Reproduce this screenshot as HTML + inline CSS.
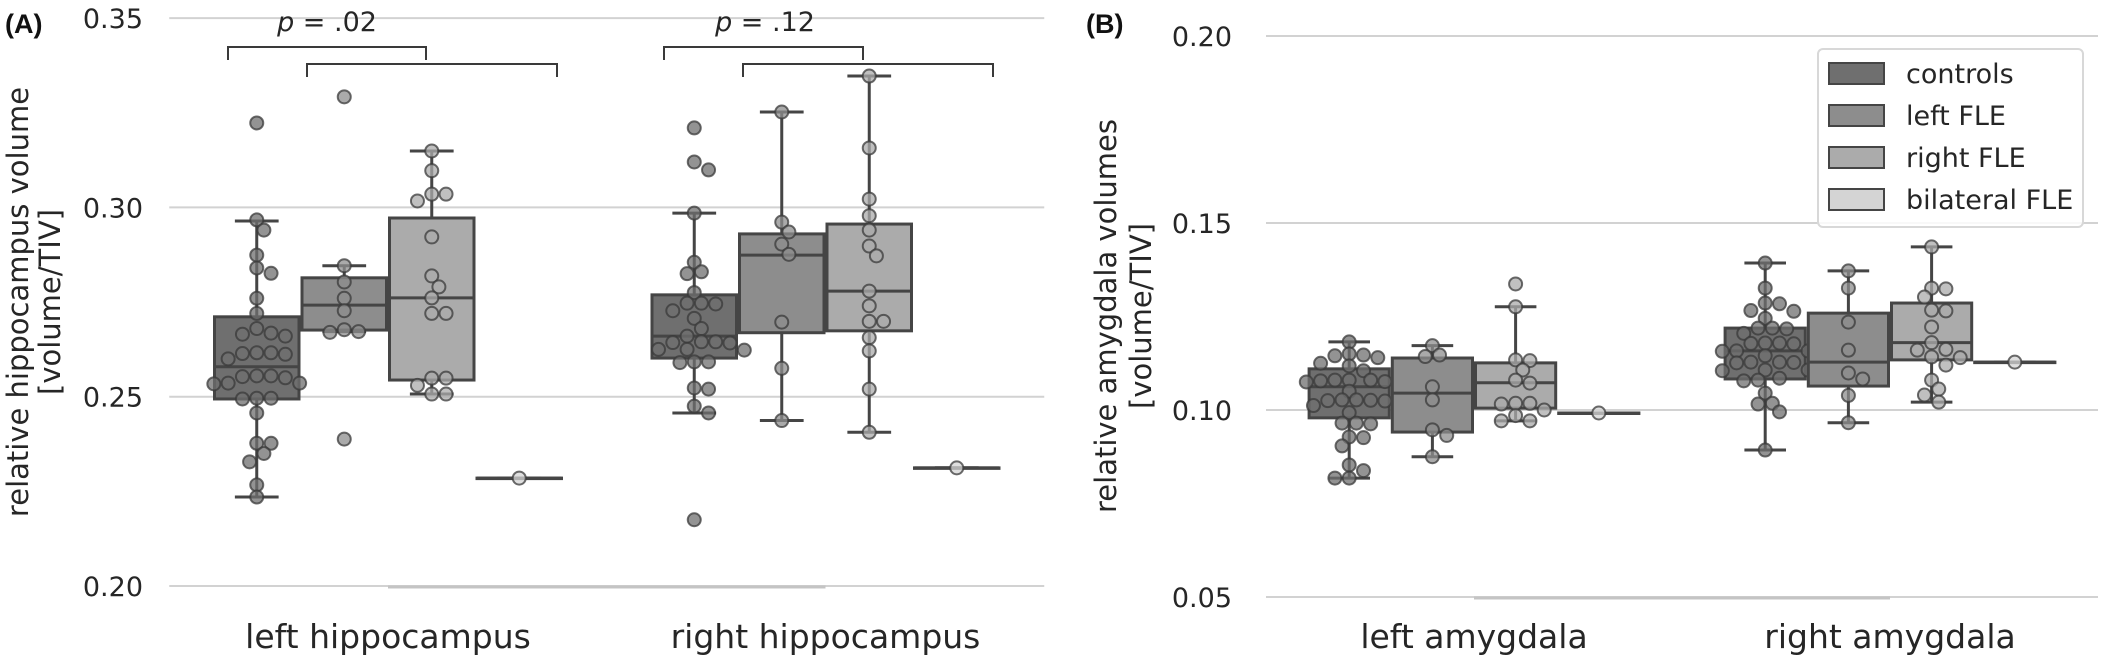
<!DOCTYPE html>
<html><head><meta charset="utf-8"><style>
html,body{margin:0;padding:0;background:#fff;}
svg{display:block;font-family:"DejaVu Sans","Liberation Sans",sans-serif;}
</style></head><body>
<svg id="fig" width="2128" height="662" viewBox="0 0 2128 662" xmlns="http://www.w3.org/2000/svg">
<g id="panelA"></g>
<g id="panelB"></g>
</svg>
<script>
// ---------- shared ----------
const groups = ["controls","left FLE","right FLE","bilateral FLE"];
const groupFill = ["#6f6f6f","#8d8d8d","#ababab","#d4d4d4"];

// ---------- Panel A data (hippocampus) ----------
const catsA = ["left hippocampus","right hippocampus"];
const ticksA = [0.20,0.25,0.30,0.35];
const tickLabelsA = ["0.20","0.25","0.30","0.35"];
// per category, per group: [whiskerLo, q1, median, q3, whiskerHi]
const boxA_left = [
  [0.2235,0.2494,0.2579,0.2711,0.2964],
  [0.2672,0.2676,0.2742,0.2814,0.2846],
  [0.2507,0.2544,0.2761,0.2972,0.3149],
  [0.2285,0.2285,0.2285,0.2285,0.2285]
];
const boxA_right = [
  [0.2457,0.2602,0.2660,0.2769,0.2985],
  [0.2437,0.2669,0.2874,0.2930,0.3252],
  [0.2406,0.2674,0.2779,0.2956,0.3347],
  [0.2312,0.2312,0.2312,0.2312,0.2312]
];
const ptsA_left_controls = [0.3223,0.2967,0.2940,0.2874,0.2840,0.2826,0.2760,0.2720,0.2680,0.2668,0.2665,0.2660,0.2616,0.2616,0.2614,0.2612,0.2600,0.2555,0.2555,0.2553,0.2550,0.2536,0.2536,0.2534,0.2496,0.2496,0.2494,0.2457,0.2377,0.2377,0.2350,0.2328,0.2267,0.2235];
const ptsA_left_lfle = [0.3292,0.2846,0.2803,0.2760,0.2727,0.2677,0.2672,0.2670,0.2388];
const ptsA_left_rfle = [0.3149,0.3097,0.3035,0.3035,0.3017,0.2922,0.2819,0.2790,0.2761,0.2720,0.2720,0.2549,0.2549,0.2530,0.2507,0.2507];
const ptsA_left_bfle = [0.2285];
const ptsA_right_controls = [0.3210,0.3120,0.3099,0.2985,0.2855,0.2830,0.2825,0.2775,0.2747,0.2747,0.2745,0.2727,0.2707,0.2680,0.2660,0.2645,0.2645,0.2643,0.2642,0.2625,0.2625,0.2623,0.2592,0.2592,0.2590,0.2523,0.2520,0.2475,0.2457,0.2175];
const ptsA_right_lfle = [0.3252,0.2961,0.2935,0.2903,0.2876,0.2697,0.2575,0.2437];
const ptsA_right_rfle = [0.3347,0.3157,0.3022,0.2978,0.2940,0.2898,0.2872,0.2779,0.2740,0.2699,0.2699,0.2656,0.2621,0.2520,0.2406];
const ptsA_right_bfle = [0.2312];

// ---------- Panel B data (amygdala) ----------
const catsB = ["left amygdala","right amygdala"];
const ticksB = [0.05,0.10,0.15,0.20];
const tickLabelsB = ["0.05","0.10","0.15","0.20"];
const boxB_left = [
  [0.0818,0.0979,0.1062,0.1110,0.1182],
  [0.0875,0.0941,0.1045,0.1139,0.1172],
  [0.0971,0.1005,0.1073,0.1126,0.1276],
  [0.0992,0.0992,0.0992,0.0992,0.0992]
];
const boxB_right = [
  [0.0893,0.1083,0.1158,0.1219,0.1393],
  [0.0966,0.1064,0.1128,0.1259,0.1372],
  [0.1021,0.1134,0.1180,0.1286,0.1436],
  [0.1128,0.1128,0.1128,0.1128,0.1128]
];
const ptsB_left_controls = [0.1182,0.1150,0.1147,0.1145,0.1140,0.1125,0.1118,0.1105,0.1080,0.1080,0.1080,0.1078,0.1076,0.1075,0.1065,0.1050,0.1027,0.1027,0.1026,0.1025,0.1024,0.1012,0.0993,0.0965,0.0965,0.0963,0.0928,0.0926,0.0904,0.0853,0.0838,0.0818,0.0818];
const ptsB_left_lfle = [0.1172,0.1147,0.1143,0.1062,0.1027,0.0947,0.0932,0.0875];
const ptsB_left_rfle = [0.1337,0.1276,0.1134,0.1132,0.1107,0.1080,0.1072,0.1018,0.1018,0.1016,0.1000,0.0985,0.0971,0.0971];
const ptsB_left_bfle = [0.0992];
const ptsB_right_controls = [0.1393,0.1326,0.1286,0.1284,0.1266,0.1264,0.1245,0.1219,0.1219,0.1217,0.1205,0.1179,0.1179,0.1178,0.1177,0.1158,0.1158,0.1157,0.1145,0.1128,0.1128,0.1127,0.1126,0.1107,0.1107,0.1105,0.1085,0.1080,0.1078,0.1045,0.1018,0.1016,0.0995,0.0893];
const ptsB_right_lfle = [0.1372,0.1326,0.1235,0.1160,0.1099,0.1083,0.1039,0.0966];
const ptsB_right_rfle = [0.1436,0.1326,0.1324,0.1302,0.1267,0.1265,0.1222,0.1180,0.1162,0.1160,0.1142,0.1140,0.1120,0.1080,0.1056,0.1040,0.1021];
const ptsB_right_bfle = [0.1128];

// ---------- drawing helpers ----------
const NS = "http://www.w3.org/2000/svg";
function mk(parent, tag, attrs, name, text){
  const el = document.createElementNS(NS, tag);
  for (const k in attrs) el.setAttribute(k, attrs[k]);
  
  
  if (text !== undefined) el.textContent = text;
  parent.appendChild(el);
  return el;
}

function drawPanel(g, cfg){
  const yS = v => cfg.y0 - (v - cfg.vmin) * cfg.ppu;
  const xS = c => cfg.xc0 + c * cfg.step;
  const xL = xS(-0.5), xR = xS(cats(cfg).length - 0.5);
  // gridlines + tick labels
  cfg.ticks.forEach((t,i)=>{
    const gl = mk(g,'line',{x1:xL,x2:xR,y1:yS(t),y2:yS(t),stroke:'#d2d2d2','stroke-width':2},'gridline');
    
    const tl = mk(g,'text',{x:cfg.tickX,y:yS(t)+10,'text-anchor':'end','font-size':27,fill:'#262626'},'y-tick-label',cfg.tickLabels[i]);
  });
  // bottom spine between category centers
  mk(g,'line',{x1:xS(0),x2:xS(cfg.cats.length-1),y1:yS(cfg.vmin)+1,y2:yS(cfg.vmin)+1,stroke:'#c4c4c4','stroke-width':3},'x-axis-spine');
  // categories
  const bw = cfg.step*0.8/groups.length;
  cfg.cats.forEach((cat,ci)=>{
    const tl = mk(g,'text',{x:xS(ci),y:cfg.catLabelY,'text-anchor':'middle','font-size':33,fill:'#262626'},'x-tick-label',cat);
    const cg = mk(g,'g',{},'category-group');
    
    groups.forEach((grp,gi)=>{
      const b = cfg.boxes[ci][gi];
      const cx = xS(ci) - cfg.step*0.4 + bw*(gi+0.5);
      const x0 = cx - bw/2;
      const ec = '#454545';
      const gg = mk(cg,'g',{},'box-group');
      
      // whiskers
      mk(gg,'line',{x1:cx,x2:cx,y1:yS(b[1]),y2:yS(b[0]),stroke:ec,'stroke-width':3},'whisker-low');
      mk(gg,'line',{x1:cx,x2:cx,y1:yS(b[3]),y2:yS(b[4]),stroke:ec,'stroke-width':3},'whisker-high');
      mk(gg,'line',{x1:cx-bw/4,x2:cx+bw/4,y1:yS(b[0]),y2:yS(b[0]),stroke:ec,'stroke-width':3},'whisker-cap-low');
      mk(gg,'line',{x1:cx-bw/4,x2:cx+bw/4,y1:yS(b[4]),y2:yS(b[4]),stroke:ec,'stroke-width':3},'whisker-cap-high');
      // box
      const h = Math.max(yS(b[1]) - yS(b[3]), 0.5);
      mk(gg,'rect',{x:x0+1.5,y:yS(b[3]),width:bw-3,height:h,fill:groupFill[gi],stroke:ec,'stroke-width':3},'box');
      mk(gg,'line',{x1:x0+1.5,x2:x0+bw-1.5,y1:yS(b[2]),y2:yS(b[2]),stroke:ec,'stroke-width':3},'median-line');
      // points (simple beeswarm)
      const pts = cfg.points[ci][gi];
      const r = 6.5, placed = [];
      pts.forEach(v=>{
        const py = yS(v);
        let off = 0;
        for (let k=0;k<40;k++){
          const cand = k===0?0:(k%2? 1:-1)*Math.ceil(k/2)*r*1.1;
          const ok = placed.every(p=>Math.hypot(p[0]-(cx+cand), p[1]-py) >= r*1.7);
          if (ok){ off = cand; break; }
        }
        placed.push([cx+off,py]);
        const c = mk(gg,'circle',{cx:cx+off,cy:py,r:r,fill:groupFill[gi],'fill-opacity':0.75,stroke:'#3a3a3a','stroke-opacity':0.75,'stroke-width':2},'data-point');
      });
    });
  });
  // y axis title
  mk(g,'text',{x:0,y:0,'text-anchor':'middle','font-size':29,fill:'#262626',transform:`translate(${cfg.titleX1},${cfg.titleY}) rotate(-90)`},'y-axis-title',cfg.title1);
  mk(g,'text',{x:0,y:0,'text-anchor':'middle','font-size':29,fill:'#262626',transform:`translate(${cfg.titleX2},${cfg.titleY}) rotate(-90)`},'y-axis-unit',cfg.title2);
  mk(g,'text',{x:cfg.panelX,y:33,'font-size':27,'font-weight':'bold',fill:'#111','font-family':'Liberation Sans, sans-serif'},'panel-label',cfg.panel);
}
function cats(cfg){return cfg.cats;}

drawPanel(document.getElementById('panelA'),{
  cats:catsA, ticks:ticksA, tickLabels:tickLabelsA, vmin:0.20, y0:586, ppu:3786,
  xc0:388, step:437.5, tickX:143, catLabelY:648,
  boxes:[boxA_left, boxA_right],
  points:[[ptsA_left_controls,ptsA_left_lfle,ptsA_left_rfle,ptsA_left_bfle],[ptsA_right_controls,ptsA_right_lfle,ptsA_right_rfle,ptsA_right_bfle]],
  title1:"relative hippocampus volume", title2:"[volume/TIV]", titleX1:28, titleX2:60, titleY:302,
  panel:"(A)", panelX:5
});
drawPanel(document.getElementById('panelB'),{
  cats:catsB, ticks:ticksB, tickLabels:tickLabelsB, vmin:0.05, y0:597, ppu:3740,
  xc0:1474, step:416, tickX:1232, catLabelY:648,
  boxes:[boxB_left, boxB_right],
  points:[[ptsB_left_controls,ptsB_left_lfle,ptsB_left_rfle,ptsB_left_bfle],[ptsB_right_controls,ptsB_right_lfle,ptsB_right_rfle,ptsB_right_bfle]],
  title1:"relative amygdala volumes", title2:"[volume/TIV]", titleX1:1116, titleX2:1151, titleY:316,
  panel:"(B)", panelX:1086
});

// ---------- significance brackets (panel A) ----------
const bracketP = ["p = .02","p = .12"];
(function(){
  const g = document.getElementById('panelA');
  const defs = [
    {a:[228,426,47,60], b:[307,557,64,77], tx:327},
    {a:[664,863,47,60], b:[743,993,64,77], tx:765}
  ];
  defs.forEach((d,i)=>{
    const bg = mk(g,'g',{},'significance-bracket');
    
    [d.a,d.b].forEach(q=>{
      mk(bg,'path',{d:`M${q[0]},${q[3]} L${q[0]},${q[2]} L${q[1]},${q[2]} L${q[1]},${q[3]}`,fill:'none',stroke:'#3a3a3a','stroke-width':2},'bracket-line');
    });
    const t = mk(bg,'text',{x:d.tx,y:31,'text-anchor':'middle','font-size':27,fill:'#262626'},'p-value-label');
    const it = document.createElementNS(NS,'tspan');
    it.setAttribute('font-style','italic');
    
    
    it.textContent = bracketP[i].slice(0,1);
    t.appendChild(it);
    t.appendChild(document.createTextNode(bracketP[i].slice(1)));
  });
})();

// ---------- legend (panel B) ----------
(function(){
  const g = document.getElementById('panelB');
  const lg = mk(g,'g',{},'legend');
  mk(lg,'rect',{x:1818,y:49,width:265,height:178,rx:5,fill:'#fff','fill-opacity':0.85,stroke:'#d8d8d8','stroke-width':2},'legend-frame');
  groups.forEach((grp,i)=>{
    const eg = mk(lg,'g',{},'legend-entry');
    
    const cy = 73 + i*42;
    mk(eg,'rect',{x:1829,y:cy-10,width:55,height:21,fill:groupFill[i],stroke:'#454545','stroke-width':2},'legend-swatch');
    mk(eg,'text',{x:1906,y:cy+10,'font-size':27,fill:'#262626'},'legend-label',grp);
  });
})();
</script>
</body></html>
